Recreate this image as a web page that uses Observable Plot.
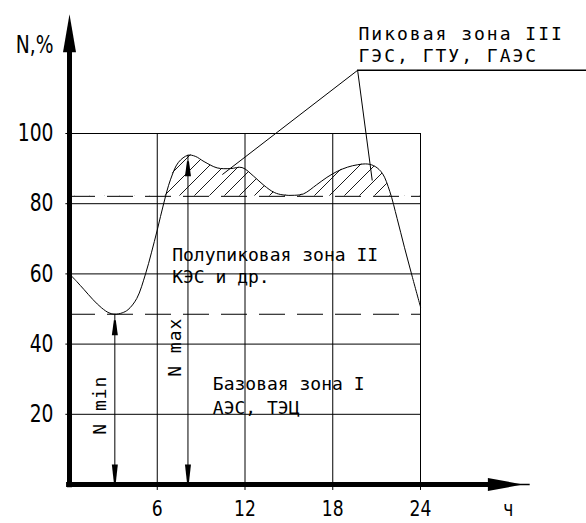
<!DOCTYPE html>
<html>
<head>
<meta charset="utf-8">
<script src="https://cdn.jsdelivr.net/npm/d3@7"></script>
<script src="https://cdn.jsdelivr.net/npm/@observablehq/plot@0.6"></script>
<style>
  html, body { margin: 0; padding: 0; background: #fff; }
  #chart svg { display: block; }
</style>
</head>
<body>
<div id="chart"></div>
<script>
// ---- Data ----
const hours = [0, 0.5, 1.0, 1.6, 2.2, 2.7, 3.1, 3.6, 4.0, 4.6, 5.2, 5.6, 6.0, 6.45, 6.9, 7.45, 8.1, 8.6, 9.2, 10.1, 11.0, 11.8, 12.6, 13.3, 14.0, 14.6, 15.4, 16.0, 16.9, 17.6, 18.3, 19.0, 19.7, 20.4, 20.9, 21.4, 21.9, 22.4, 22.9, 23.45, 24.0];
const load  = [60, 57.8, 55.5, 52.7, 50.3, 48.9, 48.5, 48.9, 49.8, 53.0, 60.0, 66.0, 72.5, 80.2, 86.8, 91.8, 93.8, 93.5, 92.0, 90.2, 90.0, 90.3, 87.8, 85.2, 83.2, 82.5, 82.4, 82.8, 85.4, 87.5, 89.2, 90.4, 91.1, 91.3, 90.6, 88.6, 83.5, 75.8, 67.6, 59.0, 50.6];
const zoneLevels = [48.5, 82.1];           // base / peak boundaries (dashed)
const xTicks = [6, 12, 18, 24];
const yTicks = [20, 40, 60, 80, 100];
const zoneTitles = ["Пиковая зона III", "Полупиковая зона II", "Базовая зона I"];
const zoneStations = ["ГЭС, ГТУ, ГАЭС", "КЭС и др.", "АЭС, ТЭЦ"];
const extremeLabels = ["N min", "N max"];
const axisTitles = ["N,%", "ч"];
const axisEnds = {x: 31.5, y: 134};

const data = hours.map((h, i) => ({h, p: load[i]}));
const iMin = d3.minIndex(load), iMax = d3.maxIndex(load);
const extremes = [
  {label: extremeLabels[0], x: hours[iMin], y: load[iMin]},
  {label: extremeLabels[1], x: hours[iMax], y: load[iMax]}
];
const leaderFrom = {x: 19.7, y: 118};
const leaderTo = [{x: 10.45, y: 88.3}, {x: 20.7, y: 86.6}];

// ---- custom symbols ----
const upAxisHead = {draw(c) { c.moveTo(0, 0); c.lineTo(6.5, 38); c.lineTo(-6.5, 38); c.closePath(); }};
const rightAxisHead = {draw(c) { c.moveTo(0, 0); c.lineTo(-35, -6.5); c.lineTo(-35, 6.5); c.closePath(); }};
const upHead = {draw(c) { c.moveTo(-1, 6); c.lineTo(1, 6); c.lineTo(3, 21); c.lineTo(-3, 21); c.closePath(); }};
const downHead = {draw(c) { c.moveTo(-1, -2); c.lineTo(1, -2); c.lineTo(3, -20); c.lineTo(-3, -20); c.closePath(); }};

const MONO = "'DejaVu Sans Mono', monospace";
const TICKFONT = "'DejaVu Sans', sans-serif";

const svg = Plot.plot({
  width: 586,
  height: 523,
  marginLeft: 69,
  marginRight: 166,
  marginTop: 133,
  marginBottom: 39,
  style: {fontFamily: TICKFONT, fontSize: "24px", color: "#000", background: "#fff"},
  x: {domain: [0, 24], axis: null},
  y: {domain: [0, 100], axis: null},
  marks: [
    // grid (with the small tick stubs outside the axes)
    Plot.ruleY(yTicks, {x1: -0.25, x2: 24, stroke: "#000", strokeWidth: 1}),
    Plot.ruleX(xTicks, {y1: -1.7, y2: 100, stroke: "#000", strokeWidth: 1}),
    // hatch of the peak zone
    Plot.areaY(data, {x: "h", y1: zoneLevels[1], y2: "p", curve: "catmull-rom", fill: "#000"}),
    // dashed zone boundaries
    Plot.ruleY(zoneLevels, {x1: 0, x2: 24, stroke: "#000", strokeWidth: 1, strokeDasharray: "26,12"}),
    // load curve
    Plot.line(data, {x: "h", y: "p", curve: "catmull-rom", stroke: "#000", strokeWidth: 1}),
    // N min / N max dimension arrows
    Plot.ruleX(extremes, {x: "x", y1: 0, y2: "y", stroke: "#000", strokeWidth: 1}),
    Plot.dot(extremes, {x: "x", y: "y", symbol: upHead, fill: "#000", stroke: "none"}),
    Plot.dot(extremes, {x: "x", y: () => 0, symbol: downHead, fill: "#000", stroke: "none"}),
    Plot.text(extremes, {x: d => d.x - (d.label === "N min" ? 1.0 : 0.85), y: d => d.label === "N min" ? 22.6 : 39.1, text: "label", rotate: -90, fontFamily: MONO, fontSize: 18}),
    // leader lines for the peak zone label
    Plot.link(leaderTo, {x1: leaderFrom.x, y1: leaderFrom.y, x2: "x", y2: "y", stroke: "#000", strokeWidth: 1}),
    Plot.ruleY([leaderFrom.y], {x1: leaderFrom.x, x2: 35.5, stroke: "#000", strokeWidth: 1.5}),
    // zone texts
    Plot.text([zoneTitles[0] + "\n" + zoneStations[0]], {x: 19.76, y: 120.3, text: d => d, textAnchor: "start", lineAnchor: "bottom", lineHeight: 1.21, fontFamily: MONO, fontSize: 18}),
    Plot.text([zoneTitles[1] + "\n" + zoneStations[1]], {x: 7.02, y: 57.4, text: d => d, textAnchor: "start", lineAnchor: "bottom", lineHeight: 1.24, fontFamily: MONO, fontSize: 18}),
    Plot.text([zoneTitles[2] + "\n" + zoneStations[2]], {x: 9.8, y: 20.2, text: d => d, textAnchor: "start", lineAnchor: "bottom", lineHeight: 1.3, fontFamily: MONO, fontSize: 18}),
    // axes (thick with arrows)
    Plot.ruleX([0], {y1: -0.9, y2: 125, stroke: "#000", strokeWidth: 5}),
    Plot.dot([{x: 0, y: axisEnds.y}], {x: "x", y: "y", symbol: upAxisHead, fill: "#000", stroke: "none"}),
    Plot.ruleY([0], {x1: -0.2, x2: 29, stroke: "#000", strokeWidth: 5}),
    Plot.ruleY([0], {x1: 29, x2: axisEnds.x, stroke: "#000", strokeWidth: 1.5}),
    Plot.dot([{x: 31.0, y: 0}], {x: "x", y: "y", symbol: rightAxisHead, fill: "#000", stroke: "none"}),
    // tick labels and axis titles
    Plot.text(xTicks, {x: d => d, y: 0, dy: 24, text: d => String(d), textAnchor: "middle", fontSize: 22, fontFamily: TICKFONT}),
    Plot.text(yTicks, {x: 0, y: d => d, dx: -16, text: d => String(d), textAnchor: "end", fontSize: 24, fontFamily: TICKFONT}),
    Plot.text([axisTitles[0]], {x: 0, y: 125.1, dx: -16, text: d => d, textAnchor: "end", fontSize: 24, fontFamily: TICKFONT}),
    Plot.text([axisTitles[1]], {x: 30.0, y: 0, dy: 24, text: d => d, textAnchor: "middle", fontSize: 22, fontFamily: TICKFONT})
  ]
});

// pattern + clip for the hatching (only above the peak boundary)
const yPix = svg.scale("y").apply(zoneLevels[1]);
const root = d3.select(svg);
const defs = root.insert("defs", ":first-child");
const pat = defs.append("pattern").attr("id", "hatch").attr("patternUnits", "userSpaceOnUse")
  .attr("width", 15).attr("height", 15);
pat.append("path").attr("d", "M-2,2 L2,-2 M0,15 L15,0 M13,17 L17,13")
  .attr("stroke", "#000").attr("stroke-width", 0.9).attr("fill", "none");
defs.append("clipPath").attr("id", "abovePeak").append("rect")
  .attr("x", 0).attr("y", 0).attr("width", 586).attr("height", yPix);
const areaG = root.select('g[aria-label="area"]');
areaG.attr("clip-path", "url(#abovePeak)").attr("fill", "url(#hatch)");
areaG.selectAll("path").attr("fill", "url(#hatch)");

// text tweaks: CAD-like wide annotation text, narrow tall tick digits
const narrow = new Set([...xTicks.map(String), ...yTicks.map(String), ...axisTitles]);
root.selectAll("text").each(function () {
  const t = this.textContent;
  const sel = d3.select(this);
  if (t.includes("Пиковая")) sel.style("letter-spacing", "2px");
  if (t.startsWith("N m")) sel.style("letter-spacing", "1px");
  if (narrow.has(t)) {
    let tr = this.getAttribute("transform") || "";
    const xa = this.getAttribute("x");
    if (!tr && xa && !isNaN(+xa)) {
      const ya = this.getAttribute("y");
      tr = `translate(${+xa},${ya && !isNaN(+ya) ? +ya : 0})`;
      this.removeAttribute("x");
      if (ya && !isNaN(+ya)) this.removeAttribute("y");
    }
    this.setAttribute("transform", (tr + " scale(0.78,1)").trim());
  }
});

document.getElementById("chart").appendChild(svg);
</script>
</body>
</html>
